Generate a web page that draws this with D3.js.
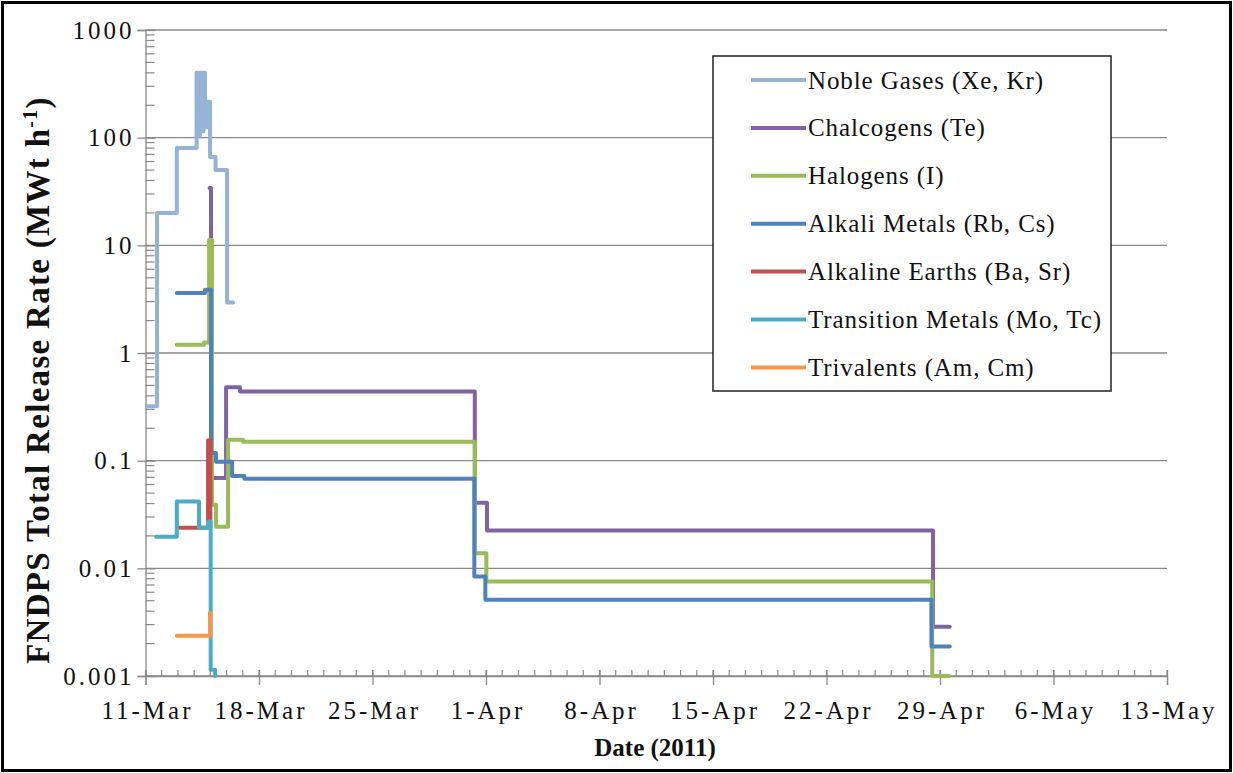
<!DOCTYPE html>
<html>
<head>
<meta charset="utf-8">
<script src="https://cdn.jsdelivr.net/npm/d3@7"></script>
<style>
  body { margin: 0; background: #fff; }
  svg text { font-family: 'Liberation Serif', 'Times New Roman', serif !important; fill: #111; }
  .tick-label { font-size: 25px; }
  .axis-title { font-size: 25px; font-weight: bold; }
  .legend-category-text { font-size: 25px; letter-spacing: 0.9px; }
</style>
</head>
<body>
<div id="chart"></div>
<script>
// step points: [days after 11-Mar-2011 00:00, rate in MWt/h]; each value holds until the next point
const nobleGases = [[0.1, 0.32], [0.71, 20], [1.93, 80], [3.15, 400], [3.27, 105], [3.36, 400], [3.49, 115],
  [3.58, 400], [3.67, 125], [3.83, 215], [3.98, 66], [4.32, 50], [5.03, 2.95], [5.40, 2.95]];
const chalcogens = [[3.95, 34], [4.04, 0.069], [4.97, 0.48], [5.83, 0.44], [20.31, 0.0406], [21.06, 0.0224],
  [48.57, 0.00286], [49.6, 0.00286]];
const halogens = [[1.93, 1.19], [3.61, 1.25], [3.92, 11.2], [4.1, 0.039], [4.35, 0.0243], [5.09, 0.156],
  [6.02, 0.150], [20.31, 0.0138], [21.02, 0.00755], [48.52, 0.001], [49.54, 0.001]];
const alkaliMetals = [[1.93, 3.61], [3.67, 3.86], [4.04, 0.118], [4.35, 0.0975], [5.34, 0.072], [6.1, 0.068],
  [20.28, 0.0084], [20.96, 0.0051], [48.47, 0.00188], [49.6, 0.00188]];
const alkalineEarths = [[1.97, 0.0238], [3.86, 0.155], [4.0, 0.0238], [4.0, 0.0238]];
const transitionMetals = [[0.65, 0.0196], [1.93, 0.0417], [3.3, 0.0238], [3.86, 0.0272], [4.02, 0.00114],
  [4.29, 0.001], [4.29, 0.001]];
const trivalents = [[1.93, 0.00236], [3.98, 0.00386], [4.02, 0.00386]];

const seriesNames = ['Noble Gases (Xe, Kr)', 'Chalcogens (Te)', 'Halogens (I)', 'Alkali Metals (Rb, Cs)',
  'Alkaline Earths (Ba, Sr)', 'Transition Metals (Mo, Tc)', 'Trivalents (Am, Cm)'];
const seriesValues = [nobleGases, chalcogens, halogens, alkaliMetals, alkalineEarths, transitionMetals, trivalents];
const seriesColors = ['#95B3D7', '#8064A2', '#9BBB59', '#4F81BD', '#C0504D', '#4BACC6', '#F79646'];

const xTickLabels = ['11-Mar', '18-Mar', '25-Mar', '1-Apr', '8-Apr', '15-Apr', '22-Apr', '29-Apr', '6-May', '13-May'];
const yTickLabels = ['0.001', '0.01', '0.1', '1', '10', '100', '1000'];

class StepChart {
  constructor(_config) {
    this.config = {
      parentElement: _config.parentElement,
      containerWidth: 1233,
      containerHeight: 773,
      margin: { top: 30, right: 66, bottom: 97, left: 145.5 },
      legendX: 713, legendY: 56, legendWidth: 398, legendHeight: 335,
      legendRowHeight: 47.9,
    };
    this.initVis();
  }

  initVis() {
    const vis = this;
    const m = vis.config.margin;
    vis.width = vis.config.containerWidth - m.left - m.right;
    vis.height = vis.config.containerHeight - m.top - m.bottom;

    vis.svg = d3.select(vis.config.parentElement).append('svg')
      .attr('width', vis.config.containerWidth)
      .attr('height', vis.config.containerHeight);

    // outer frame of the picture
    vis.svg.append('rect')
      .attr('x', 2.5).attr('y', 2.5)
      .attr('width', vis.config.containerWidth - 5).attr('height', vis.config.containerHeight - 5)
      .attr('fill', '#fff').attr('stroke', '#000').attr('stroke-width', 3);

    vis.chartArea = vis.svg.append('g')
      .attr('transform', `translate(${m.left},${m.top})`);

    vis.start = new Date(2011, 2, 11);
    vis.end = new Date(2011, 4, 13);
    vis.xScale = d3.scaleTime().domain([vis.start, vis.end]).range([0, vis.width]);
    vis.yScale = d3.scaleLog().domain([0.001, 1000]).range([vis.height, 0]);

    vis.toDate = (d) => new Date(vis.start.getTime() + d * 864e5);

    vis.line = d3.line()
      .curve(d3.curveStepAfter)
      .x((d) => vis.xScale(vis.toDate(d[0])))
      .y((d) => vis.yScale(d[1]));

    vis.renderAxes();
    vis.renderVis();
    vis.renderLegend();
  }

  renderAxes() {
    const vis = this;
    const axisColor = '#898989';
    const decades = yTickLabels.map((t) => +t);

    // horizontal gridlines
    vis.chartArea.append('g').selectAll('line')
      .data(decades)
      .join('line')
      .attr('x1', 0).attr('x2', vis.width)
      .attr('y1', (d) => vis.yScale(d)).attr('y2', (d) => vis.yScale(d))
      .attr('stroke', axisColor).attr('stroke-width', 1.3);

    // y axis: major ticks outside, log minor ticks inside
    const yAxis = d3.axisLeft(vis.yScale)
      .tickValues(decades)
      .tickSize(8)
      .tickPadding(3)
      .tickFormat((d, i) => yTickLabels[i]);
    const yG = vis.chartArea.append('g').call(yAxis).attr('font-family', null);
    yG.select('.domain').attr('stroke', axisColor).attr('stroke-width', 1.3);
    yG.selectAll('.tick line').attr('stroke', axisColor).attr('stroke-width', 1.3).attr('x2', 10).attr('x1', -8);
    yG.selectAll('.tick text').attr('class', 'tick-label').attr('fill', '#111')
      .style('letter-spacing', '3px');

    const minor = [];
    decades.slice(0, -1).forEach((d) => { for (let k = 2; k < 10; k += 1) minor.push(d * k); });
    vis.chartArea.append('g').selectAll('line')
      .data(minor)
      .join('line')
      .attr('x1', 0).attr('x2', 9)
      .attr('y1', (d) => vis.yScale(d)).attr('y2', (d) => vis.yScale(d))
      .attr('stroke', axisColor).attr('stroke-width', 1.2);

    // x axis: weekly major ticks crossing, daily minor ticks inside
    const weekly = d3.timeDay.range(vis.start, d3.timeDay.offset(vis.end, 1), 7);
    const xAxis = d3.axisBottom(vis.xScale)
      .tickValues(weekly)
      .tickSize(9)
      .tickPadding(16)
      .tickFormat((d, i) => xTickLabels[i]);
    const xG = vis.chartArea.append('g')
      .attr('transform', `translate(0,${vis.height})`)
      .call(xAxis)
      .attr('font-family', null);
    xG.select('.domain').attr('stroke', axisColor).attr('stroke-width', 1.3);
    xG.selectAll('.tick line').attr('stroke', axisColor).attr('stroke-width', 1.3).attr('y1', -6);
    xG.selectAll('.tick text').attr('class', 'tick-label').attr('fill', '#111')
      .attr('dx', 1.5)
      .style('letter-spacing', '3px');

    vis.chartArea.append('g').selectAll('line')
      .data(d3.timeDay.range(vis.start, d3.timeDay.offset(vis.end, 1)))
      .join('line')
      .attr('x1', (d) => vis.xScale(d)).attr('x2', (d) => vis.xScale(d))
      .attr('y1', vis.height - 6).attr('y2', vis.height)
      .attr('stroke', axisColor).attr('stroke-width', 1.2);

    // axis titles
    vis.svg.append('text')
      .attr('class', 'axis-title')
      .attr('x', 655).attr('y', 756)
      .attr('text-anchor', 'middle')
      .text('Date (2011)');

    const yTitle = vis.svg.append('text')
      .attr('class', 'axis-title')
      .attr('transform', 'translate(49,380) rotate(-90)')
      .attr('text-anchor', 'middle')
      .style('font-size', '33px')
      .style('letter-spacing', '1.3px');
    yTitle.append('tspan').text('FNDPS  Total Release Rate (MWt h');
    yTitle.append('tspan').attr('dy', -12).style('font-size', '20px').text('-1');
    yTitle.append('tspan').attr('dy', 12).text(')');
  }

  renderVis() {
    const vis = this;
    vis.chartArea.append('g').selectAll('.series')
      .data(seriesValues)
      .join('path')
      .attr('class', 'series')
      .attr('d', vis.line)
      .attr('fill', 'none')
      .attr('stroke', (d, i) => seriesColors[i])
      .attr('stroke-width', 4)
      .attr('stroke-linejoin', 'round')
      .attr('stroke-linecap', 'round');
  }

  renderLegend() {
    const vis = this;
    const c = vis.config;
    vis.legend = vis.svg.append('g').attr('transform', `translate(${c.legendX},${c.legendY})`);
    vis.legend.append('rect')
      .attr('width', c.legendWidth).attr('height', c.legendHeight)
      .attr('fill', '#fff').attr('stroke', '#222').attr('stroke-width', 1.5);

    const rows = vis.legend.selectAll('.legend-row')
      .data(seriesNames)
      .join('g')
      .attr('class', 'legend-row')
      .attr('transform', (d, i) => `translate(0,${24 + i * c.legendRowHeight})`);

    rows.append('line')
      .attr('x1', 38).attr('x2', 93)
      .attr('stroke', (d, i) => seriesColors[i])
      .attr('stroke-width', 4);

    rows.append('text')
      .attr('class', 'legend-category-text')
      .attr('x', 95).attr('y', 8.5)
      .text((d) => d);
  }
}

new StepChart({ parentElement: '#chart' });
</script>
</body>
</html>
